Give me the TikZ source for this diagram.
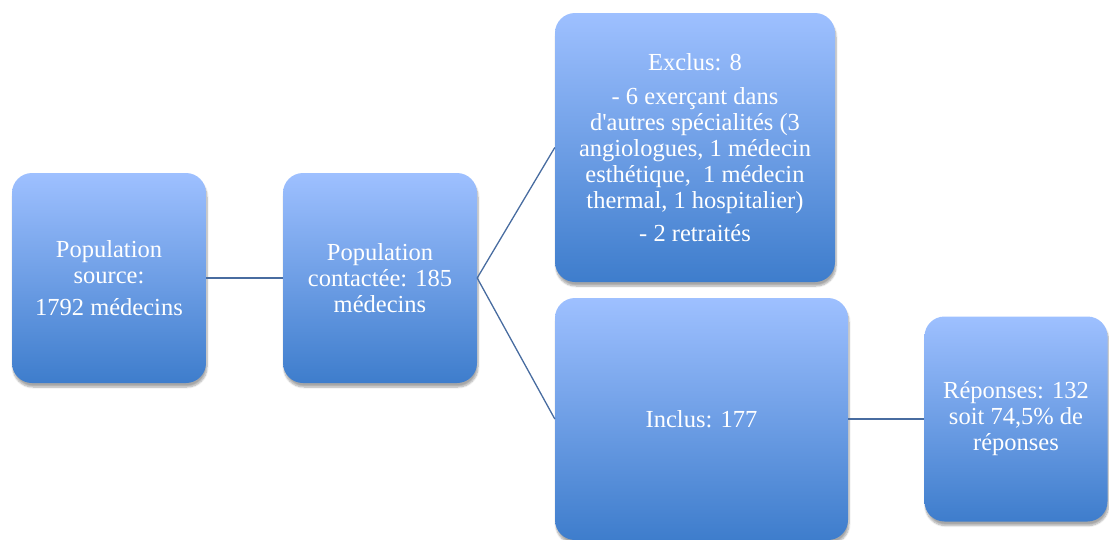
\documentclass[tikz,border=0pt]{standalone}
\usepackage{fontspec}
\setmainfont{Liberation Serif}
\usetikzlibrary{shadows.blur}
\definecolor{boxtop}{RGB}{158,192,255}
\definecolor{boxbot}{RGB}{62,125,204}
\definecolor{linkcol}{RGB}{72,108,160}
\begin{document}
\begin{tikzpicture}[x=1pt,y=-1pt,
  box/.style={rounded corners=20pt, top color=boxtop, bottom color=boxbot, draw=none,
    text=white, align=center, font=\fontsize{24.5}{26}\selectfont, inner sep=0pt,
    blur shadow={shadow xshift=1pt, shadow yshift=-4pt, shadow blur steps=8, shadow opacity=35}},
  link/.style={draw=linkcol, line width=1.3pt}]
\useasboundingbox (0,0) rectangle (1109,539);
\node[box, minimum width=194pt, minimum height=210pt] (src) at (109,278)
  {Population\\source:\\[6pt]1792 médecins};
\node[box, minimum width=194pt, minimum height=210pt] (ctc) at (380,278)
  {Population\\contactée: 185\\médecins};
\node[box, minimum width=280pt, minimum height=269pt] (excl) at (695,147.5)
  {Exclus: 8\\[8pt]- 6 exerçant dans\\d\textquotesingle autres spécialités (3\\angiologues, 1 médecin\\esthétique,\ \ 1 médecin\\thermal, 1 hospitalier)\\[7pt]- 2 retraités};
\node[box, minimum width=293pt, minimum height=242pt] (incl) at (701.5,419)
  {Inclus: 177};
\node[box, minimum width=183pt, minimum height=205pt] (rep) at (1016,419)
  {Réponses: 132\\soit 74,5\% de\\réponses};
\draw[link] (src.east) -- (ctc.west);
\draw[link] (ctc.east) -- (excl.west);
\draw[link] (ctc.east) -- (incl.west);
\draw[link] (incl.east) -- (rep.west);
\end{tikzpicture}
\end{document}
